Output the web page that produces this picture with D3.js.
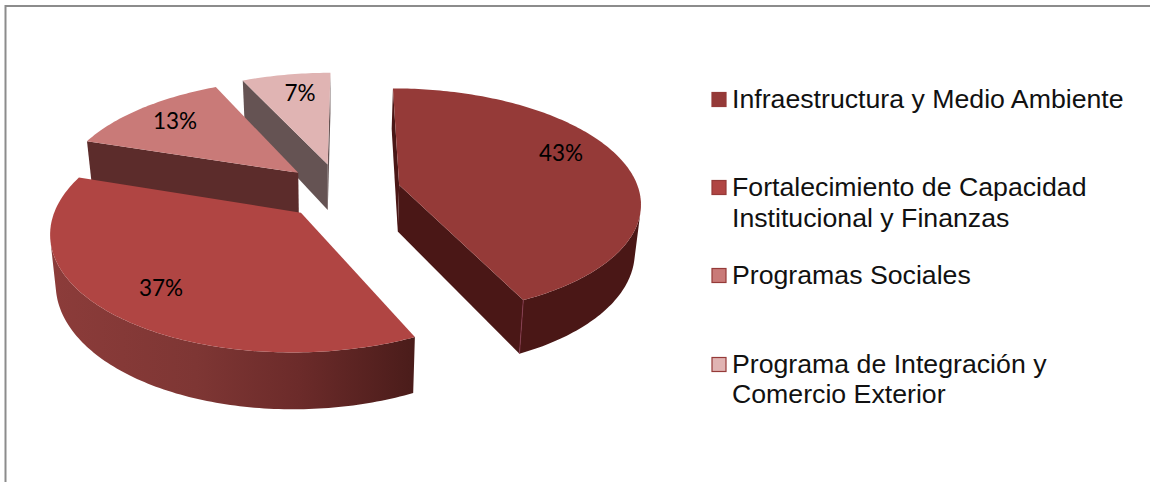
<!DOCTYPE html>
<html><head><meta charset="utf-8">
<script src="https://cdn.jsdelivr.net/npm/d3@7"></script>
<style>html,body{margin:0;padding:0;background:#fff;overflow:hidden}svg{display:block}</style>
</head><body><svg id="c" width="1150" height="482"></svg>
<script>
const categories = ["Infraestructura y Medio Ambiente","Fortalecimiento de Capacidad Institucional y Finanzas","Programas Sociales","Programa de Integración y Comercio Exterior"];
const legendLines = [["Infraestructura y Medio Ambiente"],["Fortalecimiento de Capacidad","Institucional y Finanzas"],["Programas Sociales"],["Programa de Integración y","Comercio Exterior"]];
const values = [43,37,13,7];
const labels = ["43%","37%","13%","7%"];
const topColors = ["#953a38","#b04543","#c97a78","#e0b4b3"];
const wallColors = ["#4a1716","#5a2220","#5c2c2b","#655353"];

const svg = d3.select("#c");
const R=240, explode=60, cx=340, cy=191, vx=350, d=1640, a=0.468, H=47, conv=0.98, convX=330;
const nudgeX=[1,2,2,0];
const A=a*d;
const project=(u,v)=>{const s=1/(1-v/d);return {x:vx+(cx-vx+u)*s,y:(cy-A)+A*s,s};};
const bottom=p=>({x:convX+(p.x-convX)*conv,y:p.y+H*p.s});
const pie=d3.pie().sort(null).value(v=>v)(values);
const line=d3.line().x(p=>p.x).y(p=>p.y);

const defs=svg.append("defs");
const grad=defs.append("linearGradient").attr("id","rim37").attr("gradientUnits","userSpaceOnUse")
  .attr("x1",50).attr("x2",415).attr("y1",0).attr("y2",0);
[[0,"#8c3c3a"],[0.4,"#7e3634"],[0.68,"#6c2b2a"],[1,"#4a1c1a"]].forEach(([o,c])=>grad.append("stop").attr("offset",o).attr("stop-color",c));

// border
svg.append("path").attr("d","M5.5,482V6H1150").attr("fill","none").attr("stroke","#8c8c8c").attr("stroke-width",2);

const g=svg.append("g");
[3,2,0,1].forEach(i=>{
  const sl=pie[i],mid=(sl.startAngle+sl.endAngle)/2;
  const eu=explode*Math.sin(mid)+nudgeX[i],ev=-explode*Math.cos(mid);
  const polar=(th,r)=>project(eu+r*Math.sin(th),ev-r*Math.cos(th));
  const n=Math.round((sl.endAngle-sl.startAngle)*180/Math.PI);
  const th=d3.range(n+1).map(k=>sl.startAngle+(sl.endAngle-sl.startAngle)*k/n);
  const rim=th.map(t=>polar(t,R));
  const apex=polar(0,0);
  const front=(p,q)=>d3.polygonArea([p,q,bottom(q),bottom(p)].map(o=>[o.x,o.y]))>0;
  const strip=(pts,fill)=>{
    g.append("path").attr("d",line([...pts,...pts.map(bottom).reverse()])+"Z").attr("fill",fill);
  };
  if(front(apex,rim[0])) strip([apex,rim[0]],wallColors[i]);
  if(front(rim[n],apex)) strip([rim[n],apex],wallColors[i]);
  const vis=[];
  for(let k=0;k<n;k++){ if(front(rim[k],rim[k+1])){ if(!vis.length)vis.push(rim[k]); vis.push(rim[k+1]); } }
  if(vis.length) strip(vis,i===1?"url(#rim37)":wallColors[i]);
  g.append("path").attr("d",line([apex,...rim])+"Z").attr("fill",topColors[i]);
  if(i===0){const p=rim[n],b=bottom(p);
    g.append("line").attr("x1",p.x).attr("y1",p.y).attr("x2",b.x).attr("y2",b.y).attr("stroke","#8a3a50").attr("stroke-width",0.8);}
});

// percent labels
const labelPos=[[561,153],[161,288],[175,121],[300,93]];
svg.append("g").selectAll("text").data(labels).join("text")
  .attr("x",(t,i)=>labelPos[i][0]).attr("y",(t,i)=>labelPos[i][1]).attr("dy","0.36em")
  .attr("text-anchor","middle").attr("font-family","Lato").attr("font-size",22.5).attr("fill","#000").text(t=>t);

// legend
const legendMarkY=[92,180,268,357];
const legendBase=[[107.5],[196,226.7],[284],[373,403]];
const lg=svg.append("g");
legendLines.forEach((ls,i)=>{
  lg.append("rect").attr("x",712).attr("y",legendMarkY[i]+0.5).attr("width",14).attr("height",14)
    .attr("fill",topColors[i]).attr("stroke","#953a38").attr("stroke-width",1.2);
  ls.forEach((t,j)=>lg.append("text").attr("x",732).attr("y",legendBase[i][j])
    .attr("font-family","Liberation Sans").attr("font-size",26.7).attr("fill","#111").text(t));
});
</script></body></html>
